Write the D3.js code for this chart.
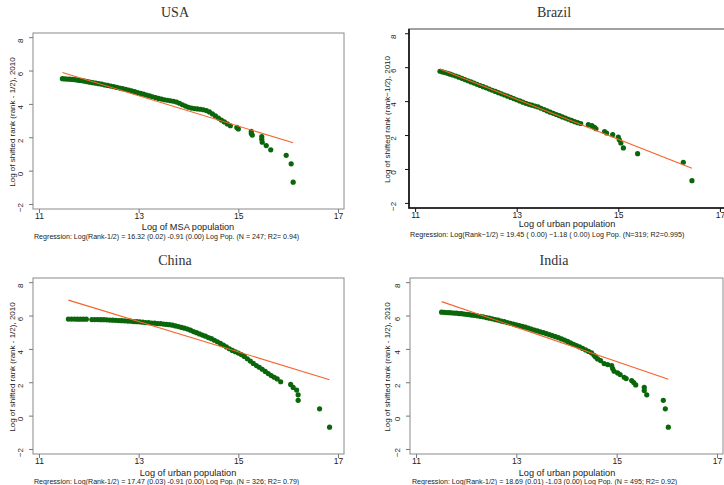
<!DOCTYPE html>
<html>
<head>
<meta charset="utf-8">
<script src="https://cdn.jsdelivr.net/npm/d3@7"></script>
<style>
  body { margin: 0; background: #fff; }
  svg { display: block; }
  text { font-family: "Liberation Sans", Arial, sans-serif; fill: #222; }
  .title { font-family: "Liberation Serif", "DejaVu Serif", serif; font-size: 14px; fill: #333; }
</style>
</head>
<body>
<svg></svg>
<script>
// tick values shared by all four panels
const xTicks = [11, 13, 15, 17];
const yTicks = [-2, 0, 2, 4, 6, 8];

// [log population, log(rank - 1/2)]
const usaPts = [
  [11.47,5.51],[11.52,5.50],[11.57,5.49],[11.62,5.48],[11.67,5.47],[11.72,5.45],[11.77,5.43],
  [11.82,5.41],[11.87,5.39],[11.92,5.36],[11.97,5.33],[12.02,5.30],[12.08,5.27],[12.14,5.24],
  [12.20,5.21],[12.26,5.18],[12.32,5.14],[12.38,5.11],[12.44,5.07],[12.50,5.03],[12.56,4.99],
  [12.62,4.95],[12.68,4.91],[12.74,4.87],[12.80,4.83],[12.86,4.78],[12.92,4.73],[12.98,4.68],
  [13.04,4.63],[13.10,4.58],[13.16,4.53],[13.22,4.48],[13.28,4.43],[13.34,4.38],[13.40,4.33],
  [13.46,4.29],[13.52,4.25],[13.58,4.22],[13.64,4.19],[13.70,4.16],[13.76,4.11],[13.82,4.04],
  [13.88,3.95],[13.94,3.87],[14.00,3.80],[14.06,3.75],[14.12,3.72],[14.18,3.70],[14.24,3.68],
  [14.30,3.65],[14.36,3.60],[14.42,3.52],[14.48,3.40],[14.54,3.28],[14.60,3.15],[14.66,3.03],
  [14.72,2.92],[14.78,2.80],[14.84,2.69],[14.97,2.59],[15.00,2.50],[15.26,2.35],[15.26,2.22],
  [15.28,2.13],[15.47,2.04],[15.47,1.88],[15.48,1.70],[15.56,1.50],[15.65,1.25],[15.96,0.92],
  [16.06,0.41],[16.10,-0.69]
];
const brazilPts = [
  [11.49,5.76],[11.54,5.72],[11.59,5.68],[11.64,5.64],[11.69,5.59],[11.74,5.54],[11.80,5.48],
  [11.86,5.41],[11.92,5.34],[11.98,5.27],[12.04,5.20],[12.10,5.13],[12.16,5.06],[12.22,4.99],
  [12.28,4.92],[12.34,4.85],[12.40,4.78],[12.46,4.71],[12.52,4.64],[12.58,4.57],[12.64,4.50],
  [12.70,4.43],[12.76,4.36],[12.82,4.29],[12.88,4.22],[12.94,4.15],[13.00,4.08],[13.06,4.01],
  [13.12,3.94],[13.18,3.87],[13.24,3.81],[13.30,3.76],[13.36,3.71],[13.42,3.66],[13.48,3.58],
  [13.54,3.50],[13.60,3.42],[13.66,3.35],[13.72,3.28],[13.78,3.21],[13.84,3.14],[13.90,3.07],
  [13.96,3.00],[14.02,2.93],[14.08,2.86],[14.14,2.79],[14.20,2.73],[14.26,2.68],[14.41,2.61],
  [14.48,2.55],[14.53,2.45],[14.56,2.37],[14.73,2.21],[14.77,2.12],[14.89,2.02],[15.00,1.88],
  [15.02,1.72],[15.05,1.53],[15.10,1.24],[15.38,0.90],[16.28,0.39],[16.45,-0.69]
];
const chinaPts = [
  [11.59,5.79],[11.65,5.79],[11.71,5.79],[11.77,5.78],[11.83,5.78],[11.89,5.78],[11.95,5.78],
  [12.06,5.76],[12.12,5.76],[12.18,5.76],[12.24,5.75],[12.30,5.75],[12.36,5.74],[12.42,5.73],
  [12.48,5.72],[12.54,5.71],[12.60,5.70],[12.66,5.69],[12.72,5.68],[12.78,5.67],[12.84,5.66],
  [12.90,5.64],[12.96,5.63],[13.02,5.62],[13.08,5.60],[13.14,5.58],[13.20,5.57],[13.26,5.55],
  [13.32,5.54],[13.38,5.52],[13.44,5.51],[13.50,5.49],[13.56,5.47],[13.62,5.45],[13.68,5.42],
  [13.74,5.38],[13.80,5.34],[13.86,5.29],[13.92,5.24],[13.98,5.19],[14.04,5.12],[14.10,5.04],
  [14.16,4.97],[14.22,4.90],[14.28,4.83],[14.34,4.76],[14.40,4.68],[14.46,4.61],[14.52,4.52],
  [14.58,4.43],[14.64,4.33],[14.70,4.23],[14.76,4.12],[14.82,4.01],[14.88,3.91],[14.94,3.83],
  [15.00,3.75],[15.06,3.66],[15.12,3.55],[15.18,3.41],[15.24,3.27],[15.30,3.13],[15.36,3.00],
  [15.42,2.90],[15.48,2.78],[15.54,2.65],[15.60,2.52],[15.66,2.40],[15.72,2.30],[15.78,2.20],
  [15.85,2.03],[16.05,1.87],[16.10,1.69],[16.17,1.53],[16.20,1.25],[16.20,0.92],[16.63,0.41],
  [16.83,-0.69]
];
const indiaPts = [
  [11.51,6.20],[11.56,6.19],[11.61,6.18],[11.66,6.17],[11.71,6.16],[11.76,6.15],[11.81,6.14],
  [11.86,6.12],[11.91,6.11],[11.96,6.09],[12.01,6.07],[12.06,6.05],[12.11,6.03],[12.16,6.01],
  [12.22,5.98],[12.28,5.95],[12.34,5.92],[12.40,5.88],[12.46,5.84],[12.52,5.80],[12.58,5.76],
  [12.64,5.72],[12.70,5.67],[12.76,5.63],[12.82,5.58],[12.88,5.53],[12.94,5.49],[13.00,5.44],
  [13.06,5.40],[13.12,5.35],[13.18,5.30],[13.24,5.25],[13.30,5.19],[13.36,5.13],[13.42,5.08],
  [13.48,5.02],[13.54,4.97],[13.60,4.91],[13.66,4.85],[13.72,4.79],[13.78,4.73],[13.84,4.67],
  [13.90,4.60],[13.96,4.53],[14.02,4.45],[14.08,4.36],[14.14,4.28],[14.20,4.20],[14.26,4.12],
  [14.32,4.03],[14.38,3.94],[14.44,3.85],[14.50,3.76],[14.55,3.62],[14.58,3.52],[14.62,3.40],
  [14.68,3.30],[14.75,3.12],[14.82,3.06],[14.90,3.00],[14.92,2.82],[14.95,2.66],[15.02,2.56],
  [15.07,2.46],[15.15,2.30],[15.19,2.22],[15.30,2.10],[15.34,1.98],[15.38,1.84],[15.55,1.70],
  [15.55,1.50],[15.60,1.25],[15.93,0.92],[15.97,0.41],[16.03,-0.69]
];

// regression: [intercept, slope]
const usaFit = [16.32, -0.91];
const brazilFit = [19.45, -1.18];
const chinaFit = [17.47, -0.91];
const indiaFit = [18.69, -1.03];

const titles = ["USA", "Brazil", "China", "India"];
const xLabels = ["Log of MSA population", "Log of urban population", "Log of urban population", "Log of urban population"];
const yLabels = ["Log of shifted rank (rank - 1/2), 2010", "Log of shifted rank (rank\u22121/2), 2010",
                 "Log of shifted rank (rank - 1/2), 2010", "Log of shifted rank (rank - 1/2), 2010"];
const captions = [
  "Regression: Log(Rank-1/2) = 16.32 (0.02) -0.91 (0.00) Log Pop.  (N = 247; R2= 0.94)",
  "Regression: Log(Rank\u22121/2) = 19.45 ( 0.00) \u22121.18 ( 0.00) Log Pop. (N=319; R2=0.995)",
  "Regression: Log(Rank-1/2) = 17.47 (0.03) -0.91 (0.00) Log Pop. (N = 326; R2= 0.79)",
  "Regression: Log(Rank-1/2) = 18.69 (0.01) -1.03 (0.00) Log Pop. (N = 495; R2= 0.92)"
];

const svg = d3.select("svg").attr("width", 724).attr("height", 485);

const panels = [
  { pts: usaPts,    fit: usaFit,    box: [33, 344, 33, 209],  title: [175, 17], ylx: 12,  ytx: 23,  xl: [188, 230], cap: [34, 239],  capSize: 7.1, dark: false },
  { pts: brazilPts, fit: brazilFit, box: [409, 726, 29, 208], title: [554, 17], ylx: 387, ytx: 396, xl: [567, 227], cap: [410, 237], capSize: 7.2, dark: true },
  { pts: chinaPts,  fit: chinaFit,  box: [33, 344, 278, 454], title: [175, 265], ylx: 12, ytx: 23,  xl: [188, 476], cap: [34, 484],  capSize: 7.1, dark: false },
  { pts: indiaPts,  fit: indiaFit,  box: [410, 723, 278, 454], title: [554, 265], ylx: 387, ytx: 400, xl: [567, 476], cap: [412, 484], capSize: 7.1, dark: false }
];

panels.forEach(function(p, i) {
    let [x0, x1, y0, y1] = p.box;
    let g = svg.append("g");

    let x = d3.scaleLinear().domain([10.88, 17.12]).range([x0, x1]);
    let y = d3.scaleLinear().domain([-2.3, 8.25]).range([y1, y0]);
    let axisColor = p.dark ? "#111" : "#777";

    // frame
    g.append("rect")
        .attr("x", x0).attr("y", y0)
        .attr("width", x1 - x0).attr("height", y1 - y0)
        .attr("fill", "none").attr("stroke", "#8a8a8a").attr("stroke-width", p.dark ? 1.6 : 1);
    if (p.dark) {
        g.append("path")
            .attr("d", `M${x0},${y0}V${y1}H${x1}`)
            .attr("fill", "none").attr("stroke", "#111").attr("stroke-width", 1.6);
    }

    // x axis
    let xa = g.append("g")
        .attr("transform", `translate(0,${y1})`)
        .call(d3.axisBottom(x).tickValues(xTicks).tickSize(4).tickPadding(0).tickFormat(d3.format("d")));
    xa.select(".domain").remove();
    xa.selectAll("line").attr("stroke", axisColor);
    xa.selectAll("text").style("font-size", "8.5px").attr("fill", "#222");

    // y axis, labels turned like Stata does
    let ya = g.append("g")
        .attr("transform", `translate(${x0},0)`)
        .call(d3.axisLeft(y).tickValues(yTicks).tickSize(4).tickFormat(d3.format("d")));
    ya.select(".domain").remove();
    ya.selectAll("line").attr("stroke", axisColor);
    ya.selectAll("text")
        .attr("x", null).attr("dy", null)
        .attr("text-anchor", "middle")
        .attr("transform", `translate(${p.ytx - x0},3) rotate(-90)`)
        .style("font-size", "8px").attr("fill", "#222");

    // points
    g.append("g").selectAll("circle")
        .data(p.pts).enter().append("circle")
        .attr("r", 2.6).attr("fill", "#0b660b")
        .attr("cx", d => x(d[0]))
        .attr("cy", d => y(d[1]));

    // fitted line over the range of the data
    let ext = d3.extent(p.pts, d => d[0]);
    let lineGen = d3.line()
        .x(d => x(d))
        .y(d => y(p.fit[0] + p.fit[1] * d));
    g.append("path")
        .attr("fill", "none").attr("stroke", "#f4642c").attr("stroke-width", 1.1)
        .attr("d", lineGen(ext));

    // texts
    svg.append("text").attr("class", "title")
        .attr("x", p.title[0]).attr("y", p.title[1])
        .attr("text-anchor", "middle").text(titles[i]);

    svg.append("text")
        .attr("transform", `translate(${p.ylx},${(y0 + y1) / 2 + 1}) rotate(-90)`)
        .attr("text-anchor", "middle").attr("dy", "0.35em")
        .style("font-size", "8px").text(yLabels[i]);

    svg.append("text")
        .attr("x", p.xl[0]).attr("y", p.xl[1])
        .attr("text-anchor", "middle")
        .style("font-size", "9.2px").text(xLabels[i]);

    svg.append("text")
        .attr("x", p.cap[0]).attr("y", p.cap[1])
        .style("font-size", p.capSize + "px").text(captions[i]);
});
</script>
</body>
</html>
